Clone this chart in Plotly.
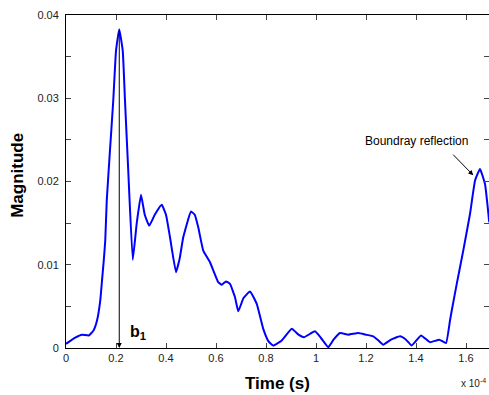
import plotly.graph_objects as go

# Time in units of 1e-4 s
time_e4 = [0.0, 0.037, 0.064, 0.091, 0.11, 0.124, 0.137, 0.144, 0.151, 0.157, 0.163,
           0.176, 0.189, 0.2, 0.213, 0.227, 0.236, 0.249, 0.267, 0.283, 0.30, 0.315, 0.333,
           0.355, 0.383, 0.40, 0.416, 0.44, 0.455, 0.469, 0.50, 0.515, 0.529, 0.549,
           0.576, 0.609, 0.623, 0.64, 0.656, 0.676, 0.689, 0.71, 0.736, 0.763, 0.789,
           0.81, 0.829, 0.863, 0.903, 0.93, 0.952, 0.996, 1.02, 1.049, 1.07, 1.096,
           1.129, 1.169, 1.2, 1.229, 1.25, 1.269, 1.30, 1.336, 1.36, 1.383, 1.42,
           1.456, 1.493, 1.52, 1.536, 1.543, 1.563, 1.589, 1.616, 1.636, 1.656, 1.676,
           1.693]
magnitude = [0.0005, 0.00125, 0.0016, 0.0015, 0.0021, 0.0033, 0.0057, 0.0081, 0.0105,
             0.0129, 0.0177, 0.0238, 0.0297, 0.0357, 0.0383, 0.0357, 0.0297, 0.0213, 0.0106,
             0.0150, 0.0184, 0.0160, 0.0147, 0.0160, 0.0172, 0.0160, 0.0133, 0.0091,
             0.0108, 0.0133, 0.0164, 0.0160, 0.0145, 0.0117, 0.0103, 0.0079, 0.0076,
             0.0080, 0.0077, 0.0061, 0.0044, 0.0060, 0.0068, 0.0053, 0.0023, 0.0008,
             0.0003, 0.0009, 0.0023, 0.0016, 0.0013, 0.0020, 0.0012, 0.0001, 0.0010,
             0.0018, 0.0016, 0.0018, 0.0016, 0.0014, 0.0009, 0.0004, 0.0010, 0.0014,
             0.0010, 0.0003, 0.0015, 0.0007, 0.0010, 0.0006, 0.0033, 0.0045, 0.0077,
             0.0117, 0.0161, 0.0201, 0.0215, 0.0197, 0.0151]

x_tickvals = [0, 0.2, 0.4, 0.6, 0.8, 1.0, 1.2, 1.4, 1.6]
x_ticktext = ["0", "0.2", "0.4", "0.6", "0.8", "1", "1.2", "1.4", "1.6"]
y_tickvals = [0, 0.005, 0.01, 0.015, 0.02, 0.025, 0.03, 0.035, 0.04]
y_ticktext = ["0", "", "0.01", "", "0.02", "", "0.03", "", "0.04"]

b1_time = 0.213
b1_peak = 0.0383

FONT = "Liberation Sans, Arial, sans-serif"

fig = go.Figure()
fig.add_trace(go.Scatter(x=time_e4, y=magnitude, mode="lines",
                         line=dict(color="#0000ff", width=2, shape="spline", smoothing=0.35),
                         showlegend=False, hoverinfo="skip"))

axis_common = dict(showgrid=False, zeroline=False, showline=True, linecolor="black",
                   linewidth=1, mirror="ticks", ticks="inside", ticklen=5,
                   tickcolor="#444", tickfont=dict(family=FONT, size=11, color="#222"))

fig.update_xaxes(range=[0, 1.692], tickvals=x_tickvals, ticktext=x_ticktext, **axis_common)
fig.update_yaxes(range=[0, 0.04], tickvals=y_tickvals, ticktext=y_ticktext,
                 ticklabelstandoff=4, **axis_common)

annotations = [
    # b1 vertical arrow
    dict(x=b1_time, y=0, ax=b1_time, ay=b1_peak, xref="x", yref="y", axref="x", ayref="y",
         text="", showarrow=True, arrowhead=2, arrowsize=1, arrowwidth=1, arrowcolor="black"),
    dict(x=0.248, y=0.0019, xref="x", yref="y", xanchor="left", yanchor="middle",
         text="<b>b<sub>1</sub></b>", showarrow=False,
         font=dict(family=FONT, size=16, color="black")),
    # boundary reflection
    dict(x=1.629, y=0.02075, ax=1.543, ay=0.0234, xref="x", yref="y", axref="x", ayref="y",
         text="", showarrow=True, arrowhead=2, arrowsize=1, arrowwidth=1, arrowcolor="black"),
    dict(x=1.402, y=0.02487, xref="x", yref="y", xanchor="center", yanchor="middle",
         text="Boundray reflection", showarrow=False,
         font=dict(family=FONT, size=12, color="black")),
    # axis titles
    dict(x=0.5, y=-0.108, xref="paper", yref="paper", xanchor="center", yanchor="middle",
         text="<b>Time (s)</b>", showarrow=False,
         font=dict(family=FONT, size=17, color="black")),
    dict(x=-0.1135, y=0.52, xref="paper", yref="paper", xanchor="center", yanchor="middle",
         text="<b>Magnitude</b>", textangle=-90, showarrow=False,
         font=dict(family=FONT, size=17, color="black")),
    dict(x=0.929, y=-0.105, xref="paper", yref="paper", xanchor="left", yanchor="middle",
         text="x 10<sup>-4</sup>", showarrow=False,
         font=dict(family=FONT, size=10, color="#222")),
]

fig.update_layout(width=489, height=395, margin=dict(l=66, r=0, t=15, b=47),
                  paper_bgcolor="white", plot_bgcolor="white", annotations=annotations,
                  font=dict(family=FONT))

fig.write_html("out.html")
